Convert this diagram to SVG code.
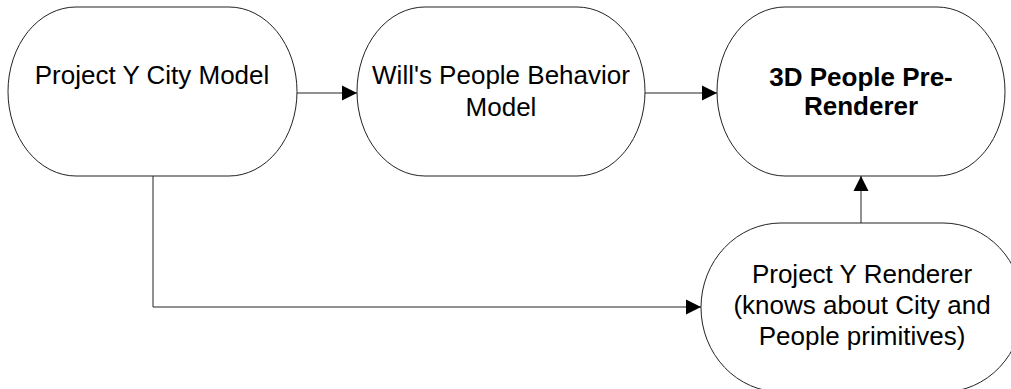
<svg xmlns="http://www.w3.org/2000/svg" width="1011" height="389" viewBox="0 0 1011 389">
<style>
.node{fill:#fff;stroke:#222;stroke-width:1}
.lbl{font-family:"Liberation Sans",Arial,sans-serif;font-size:26px;fill:#000;text-anchor:middle}
.b{font-weight:bold}
.conn{fill:none;stroke:#222;stroke-width:1}
</style>
<defs>
<marker id="ah" markerUnits="userSpaceOnUse" markerWidth="16" markerHeight="16" viewBox="0 0 16 16" refX="15" refY="8" orient="auto">
<path d="M0,0.5 L15,8 L0,15.5 Z" fill="#000"/>
</marker>
</defs>
<rect width="1011" height="389" fill="#fff"/>
<g id="connectors">
<path class="conn" d="M297,93 H357" marker-end="url(#ah)"/>
<path class="conn" d="M645,93 H717" marker-end="url(#ah)"/>
<path class="conn" d="M861,223 V176" marker-end="url(#ah)"/>
<path class="conn" d="M153,176 V307 H701" marker-end="url(#ah)"/>
</g>
<g id="city-model">
<rect class="node" x="8" y="7" width="289" height="169" rx="68" ry="84.5"/>
<text class="lbl" x="152" y="84">Project Y City Model</text>
</g>
<g id="behavior-model">
<rect class="node" x="357" y="7" width="288" height="169" rx="68" ry="84.5"/>
<text class="lbl" x="501" y="84">Will's People Behavior</text>
<text class="lbl" x="501" y="116">Model</text>
</g>
<g id="pre-renderer">
<rect class="node" x="717" y="7" width="288" height="169" rx="68" ry="84.5"/>
<text class="lbl b" x="861" y="86">3D People Pre-</text>
<text class="lbl b" x="861" y="115">Renderer</text>
</g>
<g id="renderer">
<rect class="node" x="701" y="223" width="322" height="169" rx="80" ry="84.5"/>
<text class="lbl" x="862" y="283">Project Y Renderer</text>
<text class="lbl" x="862" y="314">(knows about City and</text>
<text class="lbl" x="862" y="345">People primitives)</text>
</g>
</svg>
